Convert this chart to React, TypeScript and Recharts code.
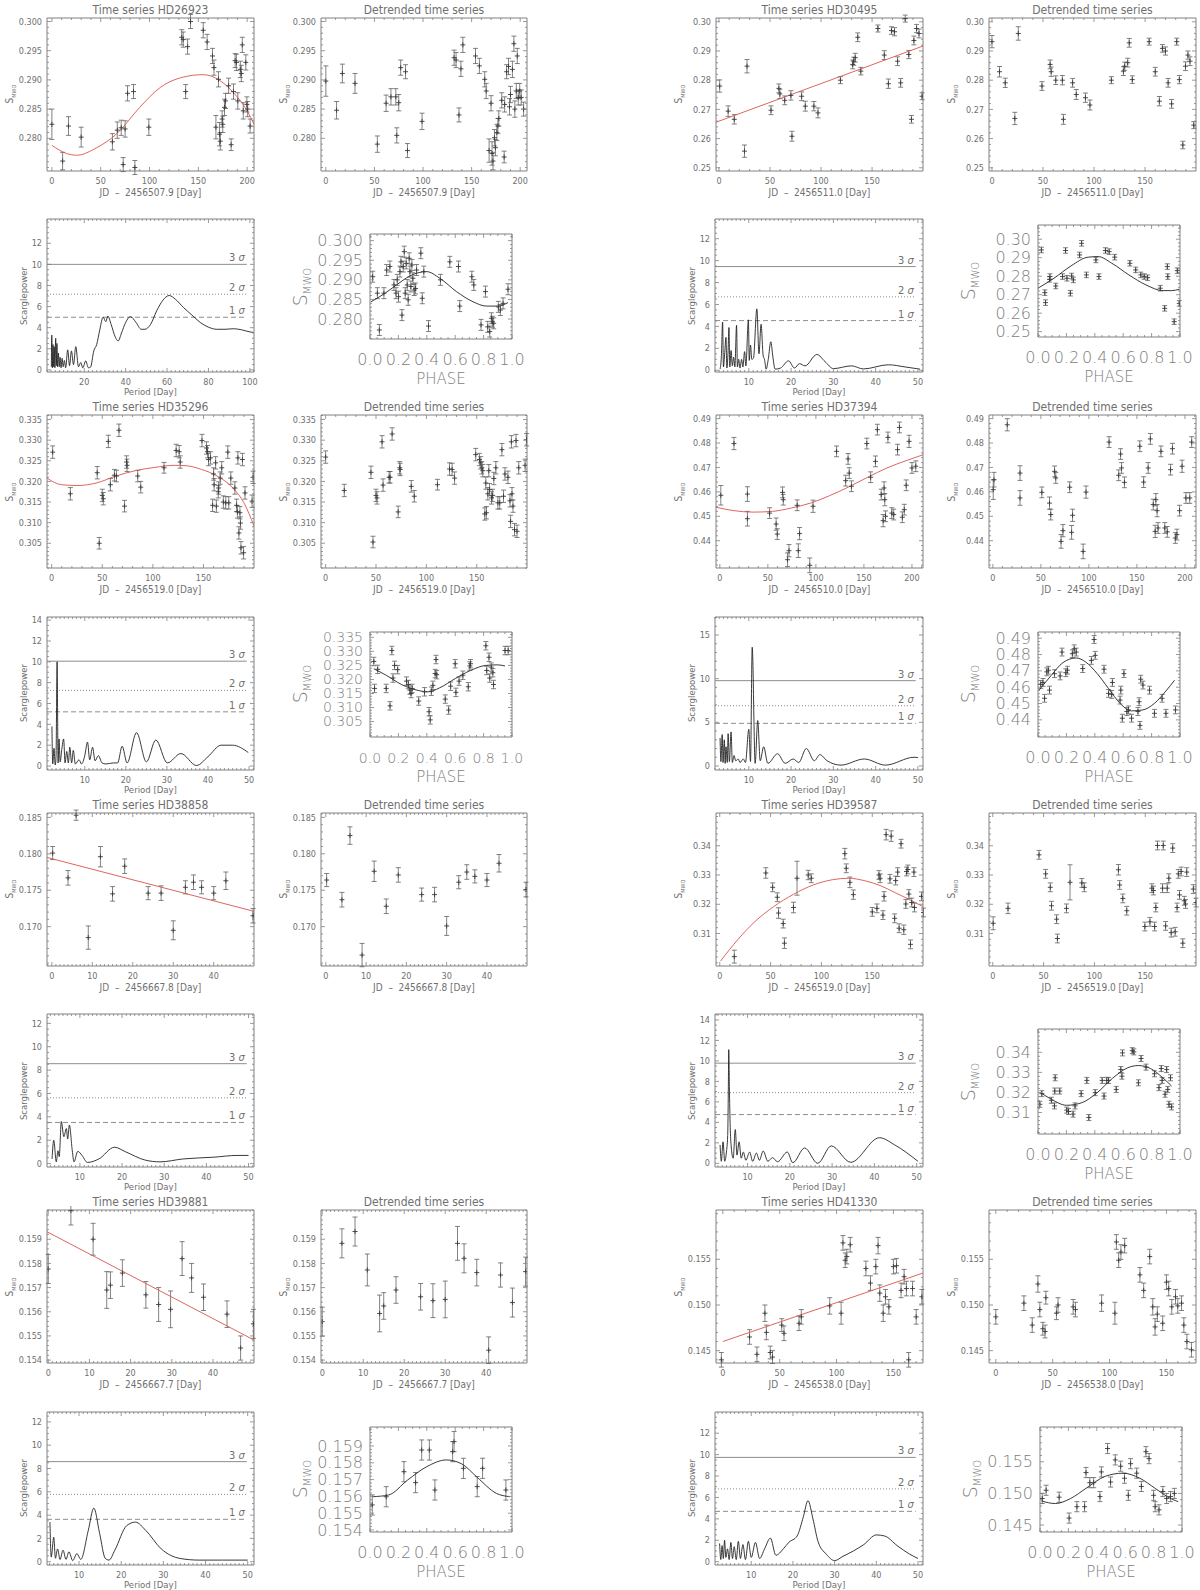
import React from "react";
import {
  ComposedChart,
  Scatter,
  Line,
  XAxis,
  YAxis,
  ErrorBar,
  ReferenceLine,
  ReferenceArea,
} from "recharts";

const AXIS = "#808080";
const TEXT = "#707070";
const BIGTEXT = "#7c7c7c";
const INK = "#3a3a3a";
const RED = "#d9534f";
const NARROW = "'Liberation Sans Narrow', 'DejaVu Sans Condensed', 'Liberation Sans', sans-serif";
const WIDE = "'DejaVu Sans', 'Liberation Sans', sans-serif";

// ---------- HD26923 ----------
const hd26923Ts = [
  [0, 0.2824, 0.0026], [11, 0.2761, 0.0015], [17, 0.2821, 0.0016], [30, 0.2802, 0.0017], [62, 0.2794, 0.0014],
  [67, 0.2814, 0.0014], [71, 0.2818, 0.0013], [73, 0.2755, 0.0012], [75, 0.2816, 0.0014], [77.5, 0.2877, 0.0013],
  [83.6, 0.288, 0.0012], [85, 0.275, 0.0012], [99.3, 0.2819, 0.0014], [133, 0.2973, 0.0013], [134.5, 0.2969, 0.0013],
  [137, 0.288, 0.0012], [139, 0.2957, 0.0013], [142, 0.3, 0.0012], [155, 0.2985, 0.0013], [159, 0.2965, 0.0013],
  [164.5, 0.2941, 0.0013], [166, 0.2921, 0.0013], [168, 0.2819, 0.002], [170.6, 0.2901, 0.0013], [171.7, 0.2807, 0.002],
  [172.5, 0.2795, 0.0015], [174.4, 0.2833, 0.0014], [175, 0.2824, 0.0014], [176.8, 0.2853, 0.0014], [177.8, 0.2864, 0.0013],
  [181, 0.289, 0.0013], [183.6, 0.2789, 0.001], [186, 0.288, 0.0013], [187.7, 0.2933, 0.0012], [189, 0.293, 0.0014],
  [190.4, 0.2864, 0.0014], [193, 0.2918, 0.0014], [194, 0.2911, 0.0014], [195, 0.296, 0.0013], [196, 0.2847, 0.0014],
  [198.6, 0.293, 0.0013], [199.7, 0.2858, 0.0013], [200.5, 0.285, 0.0013], [203, 0.2821, 0.0012],
];
const hd26923Fit = [
  [0, 0.2788], [15, 0.2774], [25.6, 0.2771], [46, 0.2784], [66.6, 0.2808], [90, 0.2853], [111, 0.2887],
  [135, 0.2905], [155, 0.2909], [172, 0.2899], [186, 0.2878], [200, 0.2847], [207, 0.2824],
];
const hd26923Dt = [
  [0, 0.2898, 0.0026], [11, 0.2848, 0.0015], [17, 0.2911, 0.0016], [30, 0.2894, 0.0017], [53, 0.279, 0.0014],
  [62, 0.286, 0.0014], [67, 0.2871, 0.0014], [72, 0.2871, 0.0014], [73, 0.2805, 0.0013], [75, 0.2861, 0.0014],
  [77, 0.2921, 0.0013], [82, 0.2914, 0.0012], [84, 0.2779, 0.0012], [99, 0.2829, 0.0014], [132, 0.2938, 0.0013],
  [134, 0.2934, 0.0013], [137, 0.284, 0.0012], [139, 0.2919, 0.0013], [141, 0.296, 0.0013], [154, 0.2941, 0.0013],
  [158, 0.2924, 0.0013], [163.5, 0.2901, 0.0013], [165, 0.2881, 0.0013], [168, 0.2779, 0.002], [170, 0.286, 0.0013],
  [171, 0.2774, 0.002], [172, 0.2761, 0.0015], [173.5, 0.2801, 0.0014], [174.5, 0.2784, 0.0014], [176, 0.281, 0.0014],
  [177, 0.2821, 0.0013], [178, 0.2834, 0.0013], [181, 0.2865, 0.0013], [183.5, 0.2768, 0.001], [184, 0.2858, 0.0013],
  [186, 0.2914, 0.0012], [188, 0.2923, 0.0014], [189, 0.2854, 0.0014], [190, 0.2875, 0.0014], [192, 0.2918, 0.0014],
  [193.5, 0.2962, 0.0013], [194.5, 0.285, 0.0014], [196, 0.2881, 0.0013], [197, 0.2941, 0.0013], [198, 0.287, 0.0013],
  [199.5, 0.2881, 0.0013], [201, 0.287, 0.0013], [203.5, 0.285, 0.0012],
];
const hd26923Pg = [
  [4.1, 0.3], [4.3, 3.3], [4.6, 0.2], [4.9, 2.4], [5.2, 0.3], [5.5, 2.2], [5.8, 0.2], [6.2, 3.0], [6.5, 0.4], [6.8, 2.5],
  [7.1, 0.3], [7.5, 1.6], [7.9, 0.3], [8.3, 1.2], [8.8, 0.2], [9.3, 1.1], [9.8, 0.3], [10.4, 0.9], [11.0, 0.2], [12.0, 1.9],
  [12.9, 0.4], [13.8, 1.8], [14.8, 0.5], [15.9, 2.2], [17.2, 0.3], [18.3, 0.7], [19.3, 0.2], [20.7, 0.85], [22.0, 0.2],
  [23.0, 0.25], [24.6, 1.8], [26, 2.4], [27.5, 3.8], [29.1, 5.0], [30.4, 4.58], [31.4, 5.1], [33, 4.3], [35, 3.1],
  [36.4, 2.75], [38, 3.5], [40, 4.5], [42.3, 5.05], [45, 4.5], [47.5, 3.85], [49.3, 3.85], [52, 4.3], [55, 5.6], [58, 6.6],
  [61, 7.05], [64, 6.7], [68, 5.9], [72, 5.2], [76, 4.5], [80, 4.05], [84, 3.85], [88, 3.85], [92, 3.9], [96, 3.8],
  [100, 3.6], [101.7, 3.55],
];
const hd26923Sig = [10.0, 7.17, 4.99];
const hd26923Ph = [
  [0.019, 0.2908], [0.052, 0.2866], [0.066, 0.2772], [0.098, 0.2866], [0.117, 0.2925], [0.14, 0.2934], [0.169, 0.2887],
  [0.183, 0.2866], [0.192, 0.29], [0.201, 0.2857], [0.211, 0.2921], [0.218, 0.2946], [0.225, 0.281], [0.234, 0.2934],
  [0.241, 0.2972], [0.248, 0.2866], [0.255, 0.2942], [0.262, 0.2887], [0.269, 0.2849], [0.276, 0.2955], [0.281, 0.2921],
  [0.288, 0.2883], [0.295, 0.2938], [0.302, 0.2904], [0.311, 0.2874], [0.321, 0.2878], [0.328, 0.2925], [0.358, 0.2968],
  [0.368, 0.2853], [0.379, 0.2921], [0.412, 0.2782], [0.496, 0.29], [0.562, 0.2946], [0.623, 0.2934], [0.632, 0.2833],
  [0.717, 0.2908], [0.731, 0.2887], [0.782, 0.2785], [0.813, 0.287], [0.829, 0.278], [0.843, 0.2768], [0.855, 0.2802],
  [0.862, 0.2793], [0.871, 0.2789], [0.904, 0.2831], [0.918, 0.2823], [0.937, 0.284], [0.972, 0.2876],
];
const hd26923PhFit = [
  [0.007, 0.2844], [0.094, 0.2863], [0.187, 0.2887], [0.281, 0.291], [0.398, 0.2921], [0.492, 0.2904],
  [0.609, 0.287], [0.726, 0.2844], [0.82, 0.2833], [0.9, 0.2833], [0.972, 0.2842],
];

// ---------- HD30495 ----------
const hd30495Ts = [
  [0.7, 0.278, 0.0021], [9, 0.2694, 0.0018], [15, 0.2666, 0.0016], [25, 0.2557, 0.0021], [27.5, 0.2848, 0.0023],
  [51, 0.2697, 0.0015], [58.7, 0.2772, 0.0015], [59.7, 0.2753, 0.0016], [64.4, 0.2731, 0.0015], [70.5, 0.2748, 0.0016],
  [71.5, 0.2608, 0.0017], [81, 0.2745, 0.0015], [84.6, 0.2711, 0.0017], [93, 0.2711, 0.0016], [97, 0.2688, 0.0017],
  [119, 0.28, 0.0012], [131, 0.2854, 0.0015], [132, 0.2865, 0.0014], [133.5, 0.2877, 0.0015], [136, 0.2947, 0.0015],
  [139, 0.2831, 0.0013], [155.7, 0.2977, 0.0012], [162, 0.2886, 0.0015], [166, 0.2788, 0.0016], [169, 0.297, 0.0013],
  [172, 0.2966, 0.0014], [175, 0.2865, 0.0015], [178, 0.2791, 0.0015], [182.5, 0.3011, 0.0012], [186, 0.2888, 0.0014],
  [188.6, 0.2666, 0.0013], [191, 0.2936, 0.0015], [193.6, 0.2977, 0.0014], [196, 0.296, 0.0015], [199, 0.2745, 0.0012],
];
const hd30495Fit = [[-2.9, 0.2656], [199.9, 0.2917]];
const hd30495Dt = [
  [0, 0.2932, 0.0021], [7.4, 0.2829, 0.0018], [13, 0.2791, 0.0016], [22.4, 0.2669, 0.0021], [25.8, 0.296, 0.0023],
  [49, 0.278, 0.0015], [57, 0.2854, 0.0015], [58, 0.2829, 0.0016], [62.5, 0.28, 0.0015], [69, 0.28, 0.0016],
  [70, 0.2666, 0.0017], [79, 0.2791, 0.0015], [82.6, 0.2751, 0.0017], [91.6, 0.274, 0.0016], [96, 0.2715, 0.0017],
  [117, 0.28, 0.0012], [128.8, 0.2831, 0.0015], [130, 0.2848, 0.0014], [133, 0.286, 0.0015], [134.5, 0.2928, 0.0015],
  [137.5, 0.2802, 0.0013], [154, 0.2932, 0.0012], [160, 0.2829, 0.0015], [164, 0.2728, 0.0016], [167, 0.2909, 0.0013],
  [170, 0.29, 0.0014], [172.6, 0.2791, 0.0015], [176, 0.2719, 0.0015], [181, 0.2932, 0.0012], [183.6, 0.2802, 0.0014],
  [187, 0.2578, 0.0013], [189.6, 0.2848, 0.0015], [192, 0.2886, 0.0014], [194, 0.2865, 0.0015], [197.7, 0.2646, 0.0012],
];
const hd30495Pg = [
  [3.2, 0.1], [3.5, 1.2], [3.8, 4.4], [4.0, 0.3], [4.3, 1.6], [4.6, 3.0], [4.8, 0.2], [5.1, 1.8], [5.3, 3.9], [5.5, 0.3],
  [5.8, 1.8], [6.1, 0.4], [6.4, 1.2], [6.7, 0.3], [7.1, 4.1], [7.3, 0.3], [7.6, 1.0], [7.9, 0.2], [8.3, 1.0], [8.6, 0.3],
  [9.0, 1.7], [9.3, 0.4], [9.9, 4.6], [10.1, 0.9], [10.4, 2.3], [10.7, 1.0], [11.1, 1.1], [11.9, 5.6], [12.4, 1.5],
  [12.9, 4.2], [13.4, 1.3], [13.7, 1.0], [14.1, 0.1], [14.6, 1.0], [15.2, 2.6], [15.7, 1.2], [16.2, 0.1], [17.5, 0.2],
  [19.4, 0.86], [20.8, 0.2], [22, 0.6], [23.3, 0.4], [26.1, 1.44], [28, 0.8], [30, 0.15], [34.3, 0.4], [37.1, 0.12],
  [43, 0.5], [47, 0.3], [50.5, 0.1],
];
const hd30495Sig = [9.46, 6.7, 4.53];
const hd30495Ph = [
  [0.024, 0.2942], [0.048, 0.2711], [0.053, 0.2657], [0.082, 0.2783], [0.084, 0.2798], [0.125, 0.2747], [0.173, 0.2798],
  [0.194, 0.2939], [0.204, 0.2789], [0.228, 0.2708], [0.237, 0.2801], [0.249, 0.278], [0.293, 0.2915], [0.307, 0.2978],
  [0.341, 0.2807], [0.408, 0.2888], [0.429, 0.2798], [0.475, 0.2939], [0.501, 0.2933], [0.54, 0.2903], [0.647, 0.287],
  [0.688, 0.2834], [0.724, 0.2807], [0.748, 0.2798], [0.772, 0.2792], [0.861, 0.2735], [0.892, 0.2626], [0.911, 0.2852],
  [0.914, 0.2798], [0.959, 0.2554], [0.981, 0.283], [0.995, 0.2653],
];
const hd30495PhFit = [
  [0, 0.2735], [0.113, 0.2789], [0.233, 0.2856], [0.353, 0.2903], [0.424, 0.2906], [0.52, 0.287], [0.64, 0.2807],
  [0.76, 0.2753], [0.88, 0.2722], [0.94, 0.2722], [0.995, 0.2729],
];

// ---------- HD35296 ----------
const hd35296Ts = [
  [1, 0.3271, 0.0015], [18.5, 0.317, 0.0015], [45, 0.3221, 0.0015], [47, 0.305, 0.0014], [50, 0.3166, 0.0015],
  [51, 0.3158, 0.0015], [56, 0.3297, 0.0015], [58, 0.3192, 0.0015], [62, 0.3215, 0.0014], [64, 0.3213, 0.0014],
  [66.5, 0.3324, 0.0015], [72, 0.314, 0.0014], [74, 0.3247, 0.0015], [74.5, 0.3239, 0.0015], [85, 0.3213, 0.0014],
  [88, 0.3186, 0.0014], [111, 0.3233, 0.0013], [123, 0.3275, 0.0015], [126, 0.3272, 0.0015], [127, 0.3247, 0.0015],
  [148.5, 0.3299, 0.0015], [153, 0.3281, 0.0015], [154, 0.3272, 0.0015], [155, 0.3253, 0.0015], [157, 0.3257, 0.0015],
  [159, 0.3142, 0.0015], [160, 0.3218, 0.0015], [160.5, 0.3192, 0.0015], [162, 0.3245, 0.0015], [162.7, 0.314, 0.0015],
  [164.6, 0.3175, 0.0015], [165, 0.3184, 0.0015], [166.5, 0.3208, 0.0015], [168, 0.3233, 0.0015], [169.6, 0.315, 0.0015],
  [172, 0.3148, 0.0015], [174, 0.3271, 0.0015], [175, 0.3148, 0.0015], [177, 0.3208, 0.0015], [181, 0.3184, 0.0015],
  [182.7, 0.3142, 0.0015], [183.5, 0.3126, 0.0015], [184, 0.3257, 0.0015], [185, 0.3075, 0.0015], [186, 0.3124, 0.0015],
  [186.5, 0.3099, 0.0015], [187, 0.3039, 0.0015], [188.5, 0.3253, 0.0015], [189.6, 0.3027, 0.0015], [191, 0.3172, 0.0015],
  [198, 0.3152, 0.0015], [199, 0.321, 0.0015],
];
const hd35296Fit = [
  [-4.6, 0.3208], [9.6, 0.3192], [25, 0.319], [44, 0.3196], [63.5, 0.3213], [82.7, 0.3226], [102, 0.3234],
  [121, 0.3239], [133, 0.3238], [148, 0.3229], [163.5, 0.3213], [179, 0.3184], [190, 0.3148], [199.9, 0.3092],
];
const hd35296Dt = [
  [0, 0.3259, 0.0015], [18.5, 0.3178, 0.0015], [45, 0.3222, 0.0015], [47, 0.3053, 0.0014], [50, 0.3166, 0.0015],
  [51, 0.316, 0.0015], [56, 0.3296, 0.0015], [57, 0.3191, 0.0015], [63, 0.321, 0.0014], [64, 0.321, 0.0014],
  [66, 0.3315, 0.0015], [72, 0.3126, 0.0014], [73.5, 0.3233, 0.0015], [74, 0.3229, 0.0015], [85, 0.3188, 0.0014],
  [88, 0.3164, 0.0014], [111, 0.3192, 0.0013], [123, 0.323, 0.0015], [125.6, 0.3229, 0.0015], [128, 0.3208, 0.0015],
  [149, 0.3265, 0.0015], [152.7, 0.3253, 0.0015], [154, 0.3245, 0.0015], [155, 0.3233, 0.0015], [156, 0.3226, 0.0015],
  [158, 0.3121, 0.0015], [159, 0.3196, 0.0015], [159.6, 0.3124, 0.0015], [161, 0.317, 0.0015], [162, 0.3226, 0.0015],
  [162.7, 0.318, 0.0015], [164.7, 0.316, 0.0015], [165.8, 0.3166, 0.0015], [167, 0.3207, 0.0015], [169, 0.3233, 0.0015],
  [171, 0.3148, 0.0015], [172.8, 0.3148, 0.0015], [175, 0.3277, 0.0015], [176.6, 0.3164, 0.0015], [178, 0.3218, 0.0015],
  [181, 0.321, 0.0015], [183, 0.3153, 0.0015], [183.6, 0.3103, 0.0015], [184.4, 0.3296, 0.0015], [185, 0.317, 0.0015],
  [186, 0.314, 0.0015], [187.5, 0.3083, 0.0015], [189, 0.3299, 0.0015], [190, 0.3079, 0.0015], [191.7, 0.3233, 0.0015],
  [198, 0.3239, 0.0015], [199.5, 0.3301, 0.0015],
];
const hd35296Pg = [
  [2.0, 3.8], [2.2, 0.2], [2.5, 1.7], [2.8, 0.1], [3.0, 0.9], [3.26, 10.0], [3.5, 0.3], [3.73, 2.6], [4.0, 0.4], [4.4, 1.6],
  [4.85, 2.6], [5.2, 0.3], [5.6, 1.4], [6.0, 0.3], [6.35, 1.8], [6.8, 0.3], [7.2, 1.5], [7.7, 0.2], [8.6, 0.6], [9.2, 0.2],
  [10.0, 1.0], [10.66, 2.3], [11.2, 0.6], [11.9, 1.8], [12.5, 0.5], [13.3, 1.0], [14.2, 0.3], [15.1, 0.2], [17.0, 0.3],
  [18, 0.3], [19.1, 1.9], [20.3, 0.3], [22.6, 3.2], [25.0, 0.4], [27.3, 2.5], [30.1, 0.3], [33.4, 1.2], [37.2, 0.05],
  [40, 0.9], [43.2, 2.0], [46, 2.0], [49.8, 1.3],
];
const hd35296Sig = [10.06, 7.26, 5.2];
const hd35296Ph = [
  [0.027, 0.3264], [0.032, 0.3168], [0.054, 0.3236], [0.114, 0.3168], [0.141, 0.3106], [0.154, 0.3303], [0.162, 0.3205],
  [0.173, 0.325], [0.195, 0.3235], [0.257, 0.3194], [0.27, 0.3182], [0.281, 0.3162], [0.289, 0.315], [0.297, 0.3168],
  [0.343, 0.3123], [0.384, 0.3156], [0.416, 0.3085], [0.424, 0.3056], [0.432, 0.3158], [0.443, 0.3179], [0.459, 0.3221],
  [0.465, 0.3271], [0.47, 0.3217], [0.53, 0.313], [0.554, 0.3091], [0.568, 0.3176], [0.6, 0.3256], [0.605, 0.3154],
  [0.627, 0.3194], [0.654, 0.3215], [0.692, 0.3174], [0.703, 0.3248], [0.708, 0.3256], [0.816, 0.332], [0.822, 0.3232],
  [0.838, 0.3279], [0.843, 0.3205], [0.854, 0.3244], [0.865, 0.3224], [0.87, 0.3182], [0.951, 0.3303], [0.973, 0.3303],
];
const hd35296PhFit = [
  [0.027, 0.3238], [0.114, 0.3215], [0.222, 0.3182], [0.33, 0.3162], [0.41, 0.3156], [0.49, 0.317], [0.6, 0.3203],
  [0.708, 0.3232], [0.816, 0.325], [0.897, 0.3252], [0.951, 0.3248],
];

// ---------- HD37394 ----------
const hd37394Ts = [
  [1, 0.4586, 0.004], [14.7, 0.4798, 0.0025], [28.7, 0.4591, 0.003], [28.7, 0.449, 0.003], [51.8, 0.4513, 0.0022],
  [58.6, 0.4468, 0.0025], [59.8, 0.4427, 0.0022], [65.3, 0.4598, 0.0022], [66, 0.4568, 0.0022], [70.5, 0.4322, 0.0028],
  [72, 0.4359, 0.0025], [80.5, 0.4545, 0.0022], [81.7, 0.4359, 0.0028], [83, 0.4429, 0.0025], [93.6, 0.4299, 0.003],
  [97, 0.4541, 0.0025], [121.5, 0.4766, 0.0022], [131, 0.4646, 0.0022], [133.5, 0.4735, 0.0022], [134.7, 0.4677, 0.0022],
  [137, 0.4623, 0.0022], [153, 0.4798, 0.0022], [157, 0.466, 0.0022], [162, 0.4725, 0.0022], [164, 0.4855, 0.0022],
  [168, 0.4589, 0.0022], [170, 0.4482, 0.0025], [171, 0.4616, 0.0025], [171.7, 0.4568, 0.0025], [172.5, 0.45, 0.0022],
  [175, 0.4823, 0.0022], [179, 0.4513, 0.0022], [181, 0.4507, 0.0022], [185, 0.4773, 0.0022], [187, 0.4864, 0.0022],
  [190, 0.4496, 0.0022], [192, 0.4527, 0.0022], [194, 0.4627, 0.0022], [197, 0.4807, 0.0025], [200, 0.4698, 0.0022],
  [204, 0.4705, 0.0022],
];
const hd37394Fit = [
  [-4, 0.4537], [14.7, 0.4523], [34.7, 0.4517], [54.6, 0.452], [74.5, 0.4534], [94.4, 0.4554], [114, 0.4584],
  [134, 0.462], [154, 0.466], [174, 0.4698], [194, 0.4728], [211.5, 0.4752],
];
const hd37394Dt = [
  [0.4, 0.4609, 0.004], [1.2, 0.465, 0.003], [15, 0.4875, 0.0025], [28.3, 0.4677, 0.003], [28.3, 0.4575, 0.003],
  [51, 0.4598, 0.0022], [59, 0.4554, 0.0025], [60.3, 0.4507, 0.0022], [64.3, 0.4684, 0.0022], [65.5, 0.4657, 0.0022],
  [71, 0.4397, 0.0028], [73, 0.4441, 0.0025], [80, 0.4619, 0.0022], [82, 0.4434, 0.0028], [83, 0.4504, 0.0025],
  [94, 0.4356, 0.003], [97, 0.4599, 0.0025], [121, 0.4804, 0.0022], [131, 0.4668, 0.0022], [133, 0.4755, 0.0022],
  [134, 0.4698, 0.0022], [137, 0.4639, 0.0022], [153, 0.4787, 0.0022], [157, 0.464, 0.0022], [161.7, 0.4698, 0.0022],
  [164, 0.4817, 0.0022], [167, 0.4548, 0.0022], [169, 0.4438, 0.0025], [169.7, 0.4568, 0.0025], [171, 0.4523, 0.0025],
  [172, 0.4452, 0.0022], [175, 0.4766, 0.0022], [179, 0.4452, 0.0022], [181.6, 0.4436, 0.0022], [185, 0.4691, 0.0022],
  [187, 0.4777, 0.0022], [190, 0.4411, 0.0022], [191.6, 0.4425, 0.0022], [194.4, 0.4523, 0.0022], [197, 0.4705, 0.0025],
  [201, 0.4575, 0.0022], [205, 0.4575, 0.0022], [207, 0.4804, 0.0022],
];
const hd37394Pg = [
  [3.2, 3.2], [3.4, 0.5], [3.7, 3.6], [3.9, 0.4], [4.2, 3.0], [4.4, 0.3], [4.6, 2.2], [4.9, 0.4], [5.1, 3.7], [5.4, 0.5],
  [5.8, 3.9], [6.1, 0.4], [6.5, 1.2], [6.9, 0.6], [7.5, 0.8], [7.9, 0.4], [8.7, 0.8], [9.2, 0.4], [10.0, 4.2], [10.4, 0.5],
  [10.8, 13.6], [11.5, 0.3], [12.1, 5.2], [12.7, 0.6], [13.5, 2.2], [14.5, 0.3], [16.8, 1.4], [18.6, 0.3], [20.5, 0.8],
  [21.8, 0.4], [23.6, 2.0], [25.5, 0.6], [26.8, 1.3], [28.5, 0.6], [31.8, 0.1], [37.3, 0.8], [42.3, 0.1], [49.1, 1.0],
  [50, 0.95],
];
const hd37394Sig = [9.77, 6.9, 4.88];
const hd37394Ph = [
  [0.019, 0.4617], [0.035, 0.4629], [0.046, 0.4532], [0.062, 0.4694], [0.073, 0.4704], [0.081, 0.4582], [0.116, 0.4683],
  [0.156, 0.4669], [0.169, 0.4815], [0.196, 0.4689], [0.207, 0.4704], [0.242, 0.4805], [0.255, 0.4835], [0.269, 0.4815],
  [0.315, 0.4714], [0.376, 0.4764], [0.395, 0.4892], [0.403, 0.4795], [0.465, 0.471], [0.497, 0.4562], [0.519, 0.4556],
  [0.524, 0.4629], [0.578, 0.4521], [0.583, 0.4582], [0.594, 0.441], [0.605, 0.4683], [0.626, 0.4451], [0.637, 0.4461],
  [0.659, 0.441], [0.704, 0.4451], [0.712, 0.4511], [0.718, 0.4366], [0.723, 0.4649], [0.739, 0.4613], [0.785, 0.4582],
  [0.82, 0.444], [0.874, 0.4532], [0.901, 0.444], [0.968, 0.4461],
];
const hd37394PhFit = [
  [0.008, 0.4582], [0.094, 0.4673], [0.175, 0.475], [0.269, 0.4779], [0.336, 0.4754], [0.417, 0.4683], [0.497, 0.4592],
  [0.578, 0.4501], [0.659, 0.4455], [0.739, 0.4461], [0.82, 0.4501], [0.9, 0.4576], [0.962, 0.4643],
];

// ---------- HD38858 ----------
const hd38858Ts = [
  [0.2, 0.1801, 0.0009], [4, 0.1767, 0.001], [6, 0.1853, 0.0007], [9, 0.1685, 0.0016], [12, 0.1796, 0.0014],
  [15, 0.1745, 0.001], [18, 0.1783, 0.001], [23.8, 0.1746, 0.0009], [27, 0.1746, 0.001], [30, 0.1695, 0.0013],
  [33, 0.1754, 0.0009], [35, 0.1761, 0.001], [37, 0.1754, 0.0009], [40, 0.1746, 0.0009], [43, 0.1763, 0.0012],
  [49.7, 0.1715, 0.001],
];
const hd38858Fit = [[-1.2, 0.1795], [49.95, 0.1721]];
const hd38858Dt = [
  [0.2, 0.1764, 0.0009], [4, 0.1737, 0.001], [6, 0.1825, 0.0012], [9, 0.1661, 0.0016], [12, 0.1776, 0.0014],
  [15, 0.1728, 0.001], [18, 0.1771, 0.001], [23.8, 0.1744, 0.0009], [27, 0.1744, 0.001], [30, 0.1701, 0.0013],
  [33, 0.1761, 0.0009], [35, 0.1775, 0.001], [37, 0.1769, 0.0009], [40, 0.1764, 0.0009], [43, 0.1787, 0.0012],
  [49.7, 0.1751, 0.001],
];
const hd38858Pg = [
  [3.4, 0.4], [3.8, 2.0], [4.4, 0.15], [4.8, 1.1], [5.1, 0.6], [5.6, 3.6], [6.2, 2.3], [6.8, 3.0], [7.1, 2.1], [7.5, 3.3],
  [8.2, 1.1], [8.6, 0.15], [9.5, 1.05], [10.5, 0.7], [11.8, 0.1], [14.5, 0.4], [18.2, 1.4], [20.9, 1.0], [25.5, 0.3],
  [29, 0.15], [34.5, 0.4], [41.8, 0.55], [47.3, 0.7], [50, 0.7],
];
const hd38858Sig = [8.55, 5.63, 3.52];

// ---------- HD39587 ----------
const hd39587Ts = [
  [14.3, 0.3021, 0.0022], [45.3, 0.3307, 0.0018], [52, 0.3258, 0.0015], [56.6, 0.3224, 0.0015], [57.8, 0.317, 0.0018],
  [62.4, 0.3134, 0.0015], [63.6, 0.3067, 0.0018], [72.5, 0.3189, 0.0018], [76, 0.3289, 0.0058], [87, 0.33, 0.0016],
  [90, 0.3289, 0.0015], [123, 0.3373, 0.0018], [124.4, 0.3323, 0.0015], [128, 0.3275, 0.0018], [131.4, 0.3233, 0.0016],
  [150, 0.3174, 0.0015], [154.6, 0.3186, 0.0015], [156.6, 0.33, 0.0015], [157.7, 0.3289, 0.0015], [160.5, 0.3163, 0.0015],
  [161.6, 0.3227, 0.0016], [163.6, 0.3438, 0.0018], [167.4, 0.3287, 0.0015], [168.6, 0.3433, 0.0018], [172, 0.3152, 0.0015],
  [173, 0.3281, 0.0015], [175, 0.331, 0.0015], [176.4, 0.3118, 0.0015], [178.3, 0.3407, 0.0015], [181, 0.3113, 0.0016],
  [183, 0.3201, 0.0015], [183.7, 0.3312, 0.0015], [185, 0.3319, 0.0015], [186, 0.3235, 0.0015], [187.6, 0.3063, 0.0015],
  [188.8, 0.3206, 0.0015], [191, 0.331, 0.0015], [191.5, 0.3189, 0.0015], [198.4, 0.3227, 0.0015], [200.4, 0.3172, 0.0015],
];
const hd39587Fit = [
  [0.8, 0.3006], [18.2, 0.3081], [33.7, 0.3138], [53, 0.3192], [72.5, 0.3234], [91.9, 0.3266], [111, 0.3284],
  [126.7, 0.3289], [142, 0.3281], [157.7, 0.3264], [173, 0.3239], [188.8, 0.3212], [199.9, 0.3192],
];
const hd39587Dt = [
  [0.4, 0.3135, 0.0022], [15, 0.3186, 0.0018], [45.5, 0.3369, 0.0015], [52, 0.3304, 0.0015], [56.6, 0.3258, 0.0015],
  [57.8, 0.3195, 0.0015], [62.8, 0.3149, 0.0015], [63.6, 0.3083, 0.0015], [72.5, 0.3186, 0.0015], [76, 0.3275, 0.006],
  [87.6, 0.3273, 0.0015], [90, 0.3258, 0.0015], [123.6, 0.3318, 0.0018], [124.8, 0.3266, 0.0015], [127.9, 0.322, 0.0015],
  [131.8, 0.3178, 0.0015], [149.6, 0.3124, 0.0015], [154.6, 0.314, 0.0015], [156.5, 0.3255, 0.0015], [158, 0.3247, 0.0015],
  [159.2, 0.3124, 0.0015], [160.4, 0.3189, 0.0015], [162, 0.3401, 0.0015], [167, 0.3255, 0.0015], [167.7, 0.3401, 0.0015],
  [170, 0.3126, 0.0015], [171.6, 0.3255, 0.0015], [173.2, 0.3289, 0.0015], [175.5, 0.3103, 0.0015], [177, 0.3392, 0.0015],
  [179.4, 0.3106, 0.0015], [181.3, 0.3189, 0.0015], [182.5, 0.3304, 0.0015], [183.7, 0.3232, 0.0015], [185.3, 0.3312, 0.0015],
  [186.9, 0.3067, 0.0015], [188.4, 0.3212, 0.0015], [189.6, 0.3201, 0.0015], [190.8, 0.331, 0.0015], [197.3, 0.3252, 0.0015],
  [200, 0.3206, 0.0015],
];
const hd39587Pg = [
  [3.5, 1.8], [3.8, 0.2], [4.2, 2.1], [4.6, 0.2], [5.0, 1.1], [5.3, 2.7], [5.45, 7.0], [5.55, 11.1], [5.7, 7.5], [5.9, 3.5],
  [6.1, 1.8], [6.6, 0.5], [7.1, 3.3], [7.5, 0.8], [8.0, 2.1], [8.5, 0.5], [9.0, 1.1], [9.6, 0.3], [10.5, 1.1], [11.2, 0.2],
  [12.1, 1.0], [12.8, 0.3], [13.7, 1.2], [14.8, 0.2], [15.9, 0.55], [17.1, 0.15], [19.4, 1.1], [20.7, 0.06], [23.5, 1.5],
  [26.6, 0.0], [29.8, 1.7], [34.4, 0.1], [41.2, 2.5], [44.8, 1.8], [50.3, 0.2],
];
const hd39587Sig = [9.78, 6.9, 4.76];
const hd39587Ph = [
  [0.013, 0.3141], [0.027, 0.3194], [0.094, 0.3161], [0.116, 0.3133], [0.121, 0.3273], [0.118, 0.3207], [0.153, 0.3207],
  [0.202, 0.3112], [0.215, 0.3105], [0.247, 0.3092], [0.261, 0.3133], [0.304, 0.3194], [0.344, 0.326], [0.358, 0.3075],
  [0.403, 0.3199], [0.452, 0.326], [0.465, 0.3182], [0.484, 0.326], [0.497, 0.326], [0.551, 0.3215], [0.583, 0.3314],
  [0.591, 0.3281], [0.595, 0.3397], [0.664, 0.3408], [0.675, 0.3402], [0.707, 0.3248], [0.726, 0.3369], [0.761, 0.3326],
  [0.82, 0.3293], [0.852, 0.3224], [0.868, 0.3319], [0.874, 0.326], [0.895, 0.3191], [0.906, 0.3314], [0.914, 0.3215],
  [0.922, 0.3141], [0.933, 0.3273], [0.941, 0.3128],
];
const hd39587PhFit = [
  [0.019, 0.3199], [0.094, 0.3166], [0.202, 0.3136], [0.309, 0.3149], [0.417, 0.3199], [0.524, 0.327], [0.632, 0.3323],
  [0.707, 0.3334], [0.793, 0.3319], [0.874, 0.3276], [0.941, 0.3232],
];

// ---------- HD39881 ----------
const hd39881Ts = [
  [0, 0.15777, 0.0006], [5.5, 0.16019, 0.0006], [10.9, 0.159, 0.00066], [14.2, 0.1569, 0.00076], [15.1, 0.1571, 0.00055],
  [18, 0.1576, 0.00055], [23.7, 0.1567, 0.00055], [26.8, 0.1563, 0.0007], [29.7, 0.1561, 0.00076], [32.5, 0.1582, 0.0007],
  [34.8, 0.1574, 0.0006], [37.7, 0.1566, 0.00055], [43.4, 0.1559, 0.00055], [46.7, 0.1545, 0.0005], [49.8, 0.1555, 0.0006],
];
const hd39881Fit = [[-0.3, 0.15931], [49.95, 0.15483]];
const hd39881Dt = [
  [0, 0.15559, 0.0006], [4.8, 0.15883, 0.0006], [8, 0.15932, 0.0006], [11, 0.15773, 0.00066], [14, 0.15593, 0.00076],
  [15, 0.15624, 0.00055], [18, 0.1569, 0.00055], [24, 0.15662, 0.00055], [27, 0.15646, 0.0007], [30, 0.15651, 0.00076],
  [33, 0.15883, 0.0007], [34.6, 0.15821, 0.0006], [37.7, 0.15762, 0.00055], [40.6, 0.15441, 0.00055], [43.5, 0.15752, 0.0005],
  [46.4, 0.15638, 0.0006], [49.6, 0.15766, 0.0006],
];
const hd39881Pg = [
  [3.1, 3.4], [3.4, 0.4], [4.0, 2.1], [4.4, 0.3], [4.9, 1.1], [5.5, 0.2], [6.2, 1.0], [6.9, 0.2], [7.6, 0.85], [8.5, 0.1],
  [9.5, 0.7], [10.4, 0.2], [12.2, 2.7], [13.5, 4.6], [14.9, 2.4], [16.2, 0.3], [17.1, 0.14], [18.5, 1.0], [21.3, 3.1],
  [23.4, 3.4], [25.8, 2.7], [29.5, 1.1], [34, 0.28], [38.5, 0.14], [44, 0.14], [50, 0.14],
];
const hd39881Sig = [8.59, 5.78, 3.64];
const hd39881Ph = [
  [0.016, 0.15549], [0.114, 0.15598], [0.239, 0.15747], [0.321, 0.15682], [0.364, 0.15876], [0.418, 0.15876],
  [0.457, 0.15638], [0.582, 0.15866], [0.592, 0.15926], [0.658, 0.15767], [0.755, 0.15658], [0.793, 0.15767],
  [0.957, 0.15638],
];
const hd39881PhFit = [
  [0.016, 0.15598], [0.13, 0.15608], [0.266, 0.15698], [0.4, 0.15777], [0.538, 0.15817], [0.647, 0.15793],
  [0.755, 0.15713], [0.89, 0.15618], [0.984, 0.15598],
];

// ---------- HD41330 ----------
const hd41330Ts = [
  [-1.3, 0.144, 0.0008], [23.5, 0.1465, 0.0008], [30, 0.1446, 0.0008], [37, 0.1491, 0.0009], [38.3, 0.147, 0.0008],
  [41.7, 0.1448, 0.0007], [43.7, 0.1443, 0.0007], [51.8, 0.1478, 0.0007], [53.8, 0.1469, 0.0008], [67, 0.148, 0.0008],
  [69, 0.1487, 0.0008], [94, 0.1499, 0.0009], [104, 0.1491, 0.0012], [105.6, 0.1568, 0.0008], [107.6, 0.1549, 0.0008],
  [109, 0.1553, 0.0008], [112, 0.1566, 0.0008], [125.8, 0.154, 0.0008], [129.8, 0.1524, 0.0008], [134.5, 0.1542, 0.0008],
  [136.5, 0.1565, 0.0009], [138, 0.1513, 0.0009], [141, 0.1491, 0.0009], [143, 0.1509, 0.0008], [146, 0.1498, 0.0008],
  [150, 0.1542, 0.0008], [152.7, 0.1543, 0.0008], [156.7, 0.1516, 0.0008], [159.4, 0.1531, 0.0008], [161.4, 0.1518, 0.0008],
  [163.4, 0.144, 0.0008], [166.8, 0.1518, 0.0008], [170, 0.1487, 0.0008], [175, 0.1509, 0.0008],
];
const hd41330Fit = [[0, 0.146], [176, 0.1535]];
const hd41330Dt = [
  [0, 0.1487, 0.0008], [24.7, 0.1502, 0.0008], [32, 0.1478, 0.0008], [37, 0.1523, 0.0009], [38.7, 0.1495, 0.0008],
  [41.3, 0.1474, 0.0007], [43.3, 0.1471, 0.0007], [44, 0.1508, 0.0007], [53.3, 0.1491, 0.0007], [54.7, 0.15, 0.0008],
  [68, 0.1498, 0.0008], [70, 0.1495, 0.0008], [93, 0.1502, 0.0009], [104.7, 0.1491, 0.0012], [106, 0.1569, 0.0008],
  [108, 0.1549, 0.0008], [110, 0.1558, 0.0008], [113.3, 0.1565, 0.0008], [126.7, 0.1533, 0.0008], [130, 0.1516, 0.0008],
  [135.3, 0.1553, 0.0008], [138, 0.1498, 0.0009], [140, 0.1476, 0.0009], [142, 0.149, 0.0008], [146.7, 0.148, 0.0008],
  [150, 0.1525, 0.0008], [152, 0.1518, 0.0008], [154.7, 0.1498, 0.0008], [158, 0.1509, 0.0008], [160, 0.1499, 0.0008],
  [163.3, 0.1502, 0.0008], [165.3, 0.1478, 0.0008], [168, 0.146, 0.0008], [172, 0.1451, 0.0008],
];
const hd41330Pg = [
  [2.4, 1.7], [2.7, 0.2], [3.0, 1.5], [3.3, 0.3], [3.6, 2.0], [3.9, 0.4], [4.3, 1.2], [4.7, 0.2], [5.1, 1.8], [5.5, 0.3],
  [5.9, 1.4], [6.4, 0.2], [6.9, 1.9], [7.4, 0.3], [8.0, 1.6], [8.6, 0.2], [9.3, 1.9], [10.0, 0.4], [11, 1.8], [12, 0.3],
  [13.2, 1.2], [14.6, 2.2], [15.9, 0.6], [17.7, 1.2], [19, 1.8], [21, 2.4], [22.5, 4.2], [23.6, 5.7], [24.8, 4.0], [26, 1.9],
  [28, 0.7], [30, 0.1], [32, 0.5], [34.5, 1.0], [37, 1.6], [40, 2.5], [42, 2.4], [45, 1.5], [48, 0.7], [50, 0.3],
];
const hd41330Sig = [9.74, 6.8, 4.7];
const hd41330Ph = [
  [0.016, 0.1492], [0.043, 0.1505], [0.135, 0.1494], [0.205, 0.1461], [0.26, 0.1479], [0.314, 0.1479], [0.324, 0.1533],
  [0.351, 0.1517], [0.378, 0.1517], [0.422, 0.1495], [0.432, 0.1534], [0.476, 0.1571], [0.497, 0.1518], [0.53, 0.1553],
  [0.568, 0.1543], [0.595, 0.1524], [0.622, 0.1497], [0.638, 0.1547], [0.681, 0.1532], [0.714, 0.1511], [0.746, 0.1566],
  [0.768, 0.1555], [0.8, 0.1497], [0.811, 0.1479], [0.838, 0.1474], [0.865, 0.1503], [0.892, 0.1492], [0.919, 0.1495],
  [0.946, 0.15],
];
const hd41330PhFit = [
  [0.011, 0.1488], [0.108, 0.1484], [0.216, 0.1492], [0.324, 0.1508], [0.459, 0.1527], [0.584, 0.1532], [0.703, 0.1524],
  [0.811, 0.1508], [0.919, 0.1492], [0.973, 0.1487],
];

// ---------- shared tick labels ----------
const dayTicks200 = [0, 50, 100, 150, 200];
const dayTicks40 = [0, 10, 20, 30, 40];
const periodTicks100 = [20, 40, 60, 80, 100];
const periodTicks50 = [10, 20, 30, 40, 50];
const powerTicks12 = [0, 2, 4, 6, 8, 10, 12];
const powerTicks14 = [0, 2, 4, 6, 8, 10, 12, 14];
const powerTicks15 = [0, 5, 10, 15];
const phaseTicks = [0, 0.2, 0.4, 0.6, 0.8, 1.0];

const stars: any[] = [
  {
    name: "HD26923", block: 0, side: 0, jd: "2456507.9",
    ts: hd26923Ts, fit: hd26923Fit, dt: hd26923Dt, pg: hd26923Pg, sig: hd26923Sig, ph: hd26923Ph, phFit: hd26923PhFit, phErr: 0.0014,
    tx: [-5, 207], txMaj: dayTicks200, txStep: 10,
    ty: [0.2744, 0.3006], tyMaj: [0.28, 0.285, 0.29, 0.295, 0.3], tyStep: 0.001, tyDec: 3,
    px: [2, 102], pxMaj: periodTicks100, pxStep: 2, py: [-0.2, 14.3], pyMaj: powerTicks12, pyStep: 0.5,
    hy: [0.2749, 0.3017], hyMaj: [0.28, 0.285, 0.29, 0.295, 0.3], hyStep: 0.001, hyDec: 3,
  },
  {
    name: "HD30495", block: 0, side: 1, jd: "2456511.0",
    ts: hd30495Ts, fit: hd30495Fit, dt: hd30495Dt, pg: hd30495Pg, sig: hd30495Sig, ph: hd30495Ph, phFit: hd30495PhFit, phErr: 0.0015,
    tx: [-2.9, 199.9], txMaj: [0, 50, 100, 150], txStep: 10,
    ty: [0.2489, 0.3013], tyMaj: [0.25, 0.26, 0.27, 0.28, 0.29, 0.3], tyStep: 0.002, tyDec: 2,
    px: [2, 51.2], pxMaj: periodTicks50, pxStep: 1, py: [-0.16, 13.8], pyMaj: powerTicks12, pyStep: 0.5,
    hy: [0.2471, 0.3077], hyMaj: [0.25, 0.26, 0.27, 0.28, 0.29, 0.3], hyStep: 0.002, hyDec: 2, phTop: 225, phH: 112,
  },
  {
    name: "HD35296", block: 1, side: 0, jd: "2456519.0",
    ts: hd35296Ts, fit: hd35296Fit, dt: hd35296Dt, pg: hd35296Pg, sig: hd35296Sig, ph: hd35296Ph, phFit: hd35296PhFit, phErr: 0.0015,
    tx: [-4.6, 199.9], txMaj: [0, 50, 100, 150], txStep: 10,
    ty: [0.299, 0.3361], tyMaj: [0.305, 0.31, 0.315, 0.32, 0.325, 0.33, 0.335], tyStep: 0.001, tyDec: 3,
    px: [0.8, 51.2], pxMaj: periodTicks50, pxStep: 1, py: [-0.38, 14.3], pyMaj: powerTicks14, pyStep: 0.5,
    hy: [0.2995, 0.3369], hyMaj: [0.305, 0.31, 0.315, 0.32, 0.325, 0.33, 0.335], hyStep: 0.001, hyDec: 3, phFs: 14,
  },
  {
    name: "HD37394", block: 1, side: 1, jd: "2456510.0",
    ts: hd37394Ts, fit: hd37394Fit, dt: hd37394Dt, pg: hd37394Pg, sig: hd37394Sig, ph: hd37394Ph, phFit: hd37394PhFit, phErr: 0.0024,
    tx: [-4, 211.5], txMaj: dayTicks200, txStep: 10,
    ty: [0.4288, 0.4915], tyMaj: [0.44, 0.45, 0.46, 0.47, 0.48, 0.49], tyStep: 0.002, tyDec: 2,
    px: [2, 51.2], pxMaj: periodTicks50, pxStep: 1, py: [-0.46, 17.06], pyMaj: powerTicks15, pyStep: 1,
    hy: [0.4295, 0.4938], hyMaj: [0.44, 0.45, 0.46, 0.47, 0.48, 0.49], hyStep: 0.002, hyDec: 2,
  },
  {
    name: "HD38858", block: 2, side: 0, jd: "2456667.8",
    ts: hd38858Ts, fit: hd38858Fit, dt: hd38858Dt, pg: hd38858Pg, sig: hd38858Sig, ph: null,
    tx: [-1.2, 49.95], txMaj: dayTicks40, txStep: 1,
    ty: [0.1646, 0.1856], tyMaj: [0.17, 0.175, 0.18, 0.185], tyStep: 0.001, tyDec: 3,
    px: [2.2, 51.3], pxMaj: periodTicks50, pxStep: 1, py: [-0.29, 12.8], pyMaj: powerTicks12, pyStep: 0.5,
  },
  {
    name: "HD39587", block: 2, side: 1, jd: "2456519.0",
    ts: hd39587Ts, fit: hd39587Fit, dt: hd39587Dt, pg: hd39587Pg, sig: hd39587Sig, ph: hd39587Ph, phFit: hd39587PhFit, phErr: 0.0015,
    tx: [-3.7, 199.9], txMaj: [0, 50, 100, 150], txStep: 10,
    ty: [0.2989, 0.3512], tyMaj: [0.31, 0.32, 0.33, 0.34], tyStep: 0.002, tyDec: 2,
    px: [2.3, 51.5], pxMaj: periodTicks50, pxStep: 1, py: [-0.36, 14.58], pyMaj: powerTicks14, pyStep: 0.5,
    hy: [0.2993, 0.3516], hyMaj: [0.31, 0.32, 0.33, 0.34], hyStep: 0.002, hyDec: 2,
  },
  {
    name: "HD39881", block: 3, side: 0, jd: "2456667.7",
    ts: hd39881Ts, fit: hd39881Fit, dt: hd39881Dt, pg: hd39881Pg, sig: hd39881Sig, ph: hd39881Ph, phFit: hd39881PhFit, phErr: 0.0006,
    tx: [-0.3, 49.95], txMaj: dayTicks40, txStep: 1,
    ty: [0.15388, 0.16021], tyMaj: [0.154, 0.155, 0.156, 0.157, 0.158, 0.159], tyStep: 0.0002, tyDec: 3,
    px: [2.4, 51.5], pxMaj: periodTicks50, pxStep: 1, py: [-0.28, 12.85], pyMaj: powerTicks12, pyStep: 0.5,
    hy: [0.15388, 0.16013], hyMaj: [0.154, 0.155, 0.156, 0.157, 0.158, 0.159], hyStep: 0.0002, hyDec: 3,
  },
  {
    name: "HD41330", block: 3, side: 1, jd: "2456538.0",
    ts: hd41330Ts, fit: hd41330Fit, dt: hd41330Dt, pg: hd41330Pg, sig: hd41330Sig, ph: hd41330Ph, phFit: hd41330PhFit, phErr: 0.0008,
    tx: [-6, 176], txMaj: [0, 50, 100, 150], txStep: 10,
    ty: [0.14365, 0.1604], tyMaj: [0.145, 0.15, 0.155], tyStep: 0.001, tyDec: 3,
    px: [1.3, 51.2], pxMaj: periodTicks50, pxStep: 1, py: [-0.31, 13.98], pyMaj: powerTicks12, pyStep: 0.5,
    hy: [0.1439, 0.1605], hyMaj: [0.145, 0.15, 0.155], hyStep: 0.001, hyDec: 3, phL: 1040,
  },
];

// ---------- layout ----------
const BLOCK = 397.5;
const COLS = [
  { ts: 47, tw: 207, dt: 321, dw: 206, pg: 47, pw: 207, ph: 370, hw: 142 },
  { ts: 716, tw: 207, dt: 989, dw: 207, pg: 715, pw: 208, ph: 1038, hw: 142 },
];

function tickSet(major: number[], domain: number[], step: number) {
  const out = new Map<string, number>();
  for (let k = Math.ceil(domain[0] / step - 1e-6); k * step <= domain[1] + 1e-9; k++) {
    const v = +(k * step).toFixed(6);
    out.set(v.toFixed(6), v);
  }
  major.forEach((v) => out.set(v.toFixed(6), v));
  return [...out.values()].sort((a, b) => a - b);
}

const plus = (p: any) =>
  p.cx == null ? <g /> : (
    <path d={`M${p.cx - 2.5},${p.cy}h5M${p.cx},${p.cy - 2.5}v5`} stroke={INK} strokeWidth={0.9} fill="none" />
  );

function points(key: string, pts: number[][], err?: number) {
  const data = pts.map((p) => ({ x: p[0], y: p[1], e: p[2] ?? err }));
  return (
    <Scatter key={key} data={data} shape={plus} isAnimationActive={false}>
      <ErrorBar dataKey="e" direction="y" width={2.5} stroke="#5a5a5a" strokeWidth={0.75} />
    </Scatter>
  );
}

function curve(key: string, pts: number[][], color: string, type: any = "monotone") {
  return (
    <Line
      key={key}
      data={pts.map((p) => ({ x: p[0], y: p[1] }))}
      dataKey="y"
      type={type}
      dot={false}
      activeDot={false}
      stroke={color}
      strokeWidth={0.9}
      isAnimationActive={false}
    />
  );
}

function sigmaLines(levels: number[], xd: number[]) {
  const x1 = xd[1] - (xd[1] - xd[0]) * 0.035;
  const dash = [undefined, "1 2", "5 3"];
  return levels.map((v, i) => (
    <ReferenceLine
      key={"sig" + i}
      segment={[{ x: xd[0], y: v }, { x: x1, y: v }]}
      stroke={AXIS}
      strokeWidth={0.9}
      strokeDasharray={dash[i]}
      label={(p: any) => {
        const vb = p.viewBox || {};
        return (
          <text x={(vb.x ?? 0) + (vb.width ?? 0) - 2} y={(vb.y ?? 0) - 3} textAnchor="end" fontSize={11} fill={TEXT} fontFamily={NARROW}>
            {3 - i} <tspan fontStyle="italic">σ</tspan>
          </text>
        );
      }}
    />
  ));
}

function Panel({ o }: { o: any }) {
  const { box, pad, big } = o;
  const W = box.w + pad.l + pad.r;
  const H = box.h + pad.t + pad.b;
  const fs = big ? o.fs ?? 16 : 9;
  const fam = big ? WIDE : NARROW;
  const col = big ? BIGTEXT : TEXT;
  const wt = big ? 200 : 400;
  const tl = 4;
  const xTicks = tickSet(o.xMaj, o.xd, o.xStep);
  const yTicks = tickSet(o.yMaj, o.yd, o.yStep);
  const isMaj = (list: number[], v: number, step: number) => list.some((m) => Math.abs(m - v) < step * 0.01);
  const top = pad.t;
  const bottom = pad.t + box.h;
  const left = pad.l;
  const right = pad.l + box.w;

  const xTick = (p: any) => {
    const v = p.payload.value;
    const x = p.x;
    const major = isMaj(o.xMaj, v, o.xStep);
    const len = major ? tl : tl / 2;
    return (
      <g>
        <line x1={x} x2={x} y1={bottom} y2={bottom - len} stroke={AXIS} strokeWidth={0.8} />
        <line x1={x} x2={x} y1={top} y2={top + len} stroke={AXIS} strokeWidth={0.8} />
        {major ? (
          <text x={x} y={bottom + (big ? 26 : 13)} textAnchor="middle" fontSize={fs} fill={col} fontWeight={wt} fontFamily={fam}>
            {v.toFixed(o.xDec)}
          </text>
        ) : null}
      </g>
    );
  };
  const yTick = (p: any) => {
    const v = p.payload.value;
    const y = p.y;
    const major = isMaj(o.yMaj, v, o.yStep);
    const len = major ? tl : tl / 2;
    return (
      <g>
        <line x1={left} x2={left + len} y1={y} y2={y} stroke={AXIS} strokeWidth={0.8} />
        <line x1={right} x2={right - len} y1={y} y2={y} stroke={AXIS} strokeWidth={0.8} />
        {major ? (
          <text x={left - (big ? 7 : 5)} y={y} dy="0.35em" textAnchor="end" fontSize={fs} fill={col} fontWeight={wt} fontFamily={fam}>
            {v.toFixed(o.yDec)}
          </text>
        ) : null}
      </g>
    );
  };

  return (
    <div style={{ position: "absolute", left: box.l - pad.l, top: box.t - pad.t }}>
      <ComposedChart width={W} height={H} margin={{ top: pad.t, right: pad.r, bottom: 0, left: 0 }}>
        <XAxis
          type="number"
          dataKey="x"
          domain={o.xd}
          ticks={xTicks}
          interval={0}
          tick={xTick}
          tickLine={false}
          axisLine={false}
          height={pad.b}
          allowDataOverflow
        />
        <YAxis
          type="number"
          dataKey="y"
          domain={o.yd}
          ticks={yTicks}
          interval={0}
          tick={yTick}
          tickLine={false}
          axisLine={false}
          width={pad.l}
          allowDataOverflow
        />
        <ReferenceArea x1={o.xd[0]} x2={o.xd[1]} y1={o.yd[0]} y2={o.yd[1]} fill="none" fillOpacity={0} stroke={AXIS} strokeWidth={1} />
        {o.items}
      </ComposedChart>
    </div>
  );
}

function Tx({ x, y, size, rot, children, family, color, weight }: any) {
  return (
    <div
      style={{
        position: "absolute",
        left: x,
        top: y,
        transform: `translate(-50%, -50%)${rot ? " rotate(-90deg)" : ""}`,
        fontSize: size,
        lineHeight: 1,
        whiteSpace: "pre",
        color: color ?? TEXT,
        fontWeight: weight ?? 400,
        fontFamily: family ?? NARROW,
      }}
    >
      {children}
    </div>
  );
}

function SLabel({ x, y, big }: any) {
  return (
    <Tx x={x} y={y} rot size={big ? 19 : 10} family={big ? WIDE : NARROW} color={big ? BIGTEXT : TEXT} weight={big ? 200 : 400}>
      S<sub style={{ fontSize: big ? 10 : 5.5 }}>MWO</sub>
    </Tx>
  );
}

function starViews(s: any) {
  const g = COLS[s.side];
  const top = s.block * BLOCK;
  const out: any[] = [];
  const TSPAD = { l: 48, r: 12, t: 4, b: 20 };
  const tsBox = { l: g.ts, t: top + 17.5, w: g.tw, h: 153 };
  const dtBox = { l: g.dt, t: top + 17.5, w: g.dw, h: 153 };
  const pgBox = { l: g.pg, t: top + 219, w: g.pw, h: 153 };
  const phBox = { l: s.phL ?? g.ph, t: top + (s.phTop ?? 234), w: g.hw, h: s.phH ?? 105 };
  const xLab = `JD  –  ${s.jd} [Day]`;

  const tsAxes = {
    xd: s.tx, xMaj: s.txMaj, xStep: s.txStep, xDec: 0,
    yd: s.ty, yMaj: s.tyMaj, yStep: s.tyStep, yDec: s.tyDec,
  };
  out.push(
    <Panel key={s.name + "ts"} o={{ ...tsAxes, box: tsBox, pad: TSPAD, items: [points("p", s.ts), curve("f", s.fit, RED)] }} />
  );
  out.push(
    <Panel key={s.name + "dt"} o={{ ...tsAxes, box: dtBox, pad: TSPAD, items: [points("p", s.dt)] }} />
  );
  out.push(
    <Panel
      key={s.name + "pg"}
      o={{
        box: pgBox, pad: { l: 30, r: 12, t: 4, b: 18 },
        xd: s.px, xMaj: s.pxMaj, xStep: s.pxStep, xDec: 0,
        yd: s.py, yMaj: s.pyMaj, yStep: s.pyStep, yDec: 0,
        items: [...sigmaLines(s.sig, s.px), curve("pg", s.pg, "#222")],
      }}
    />
  );
  if (s.ph) {
    out.push(
      <Panel
        key={s.name + "ph"}
        o={{
          box: phBox, pad: { l: 62, r: 18, t: 10, b: 32 }, big: true, fs: s.phFs,
          xd: [0, 1], xMaj: phaseTicks, xStep: 0.05, xDec: 1,
          yd: s.hy, yMaj: s.hyMaj, yStep: s.hyStep, yDec: s.hyDec,
          items: [points("p", s.ph, s.phErr), curve("f", s.phFit, "#222")],
        }}
      />
    );
  }

  // texts
  const tsT = [tsBox, dtBox];
  tsT.forEach((b, i) => {
    out.push(
      <Tx key={s.name + "tt" + i} x={b.l + b.w / 2} y={b.t - 8} size={12}>
        {i === 0 ? `Time series ${s.name}` : "Detrended time series"}
      </Tx>
    );
    out.push(
      <Tx key={s.name + "xl" + i} x={b.l + b.w / 2} y={b.t + b.h + 22} size={10}>
        {xLab}
      </Tx>
    );
    out.push(<SLabel key={s.name + "yl" + i} x={b.l - 36} y={b.t + b.h / 2} />);
  });
  out.push(
    <Tx key={s.name + "pgy"} x={pgBox.l - 23} y={pgBox.t + pgBox.h / 2} size={9.5} rot>
      Scarglepower
    </Tx>
  );
  out.push(
    <Tx key={s.name + "pgx"} x={pgBox.l + pgBox.w / 2} y={pgBox.t + pgBox.h + 20} size={9.5}>
      Period [Day]
    </Tx>
  );
  if (s.ph) {
    out.push(<SLabel key={s.name + "phy"} x={phBox.l - 68} y={phBox.t + phBox.h / 2} big />);
    out.push(
      <Tx key={s.name + "phx"} x={phBox.l + phBox.w / 2} y={phBox.t + phBox.h + 40} size={15} family={WIDE} color={BIGTEXT} weight={200}>
        PHASE
      </Tx>
    );
  }
  return out;
}

export default function App() {
  return (
    <div
      style={{
        position: "absolute",
        left: 0,
        top: 0,
        width: 1200,
        height: 1590,
        overflow: "hidden",
        background: "#fff",
      }}
    >
      {stars.flatMap((s) => starViews(s))}
    </div>
  );
}
